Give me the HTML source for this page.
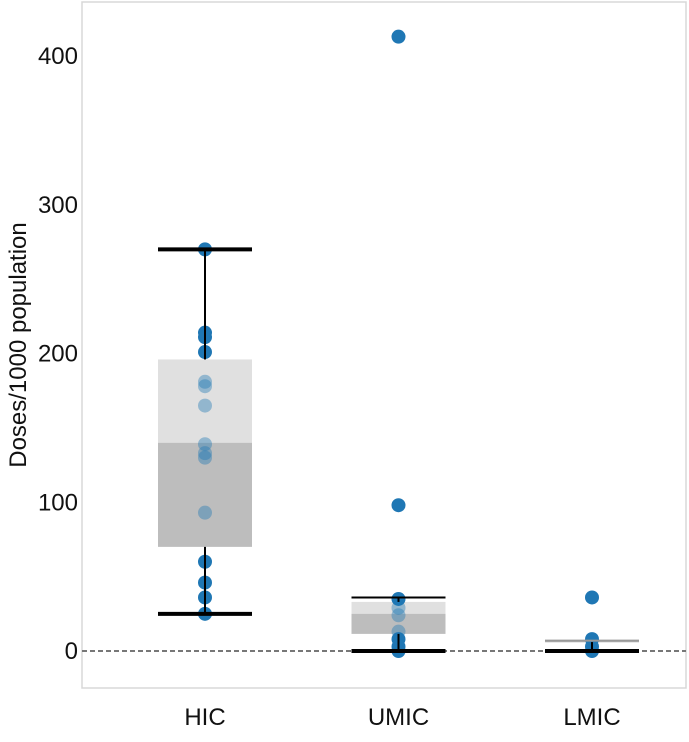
<!DOCTYPE html>
<html><head><meta charset="utf-8"><style>
body{margin:0;background:#fff}
svg text{font-family:"Liberation Sans",Arial,sans-serif;fill:#111}
</style></head><body>
<svg width="689" height="737">
<rect x="82" y="2" width="604" height="686" fill="none" stroke="#d8d8d8" stroke-width="1.5"/>
<g id="axes"></g><g id="marks"></g>
<text transform="translate(26,345) rotate(-90)" text-anchor="middle" font-size="24">Doses/1000 population</text>
</svg>
<script>
const categories=["HIC","UMIC","LMIC"];
const yTicks=[0,100,200,300,400];
const whiskerLow=[25,0,0];
const q1=[70,11.5,6];
const median=[140,25,6.5];
const q3=[196,33,7];
const whiskerHigh=[270,36,7];
const pointsHIC=[270,214,211,201,181,178,165,139,133,130,93,60,46,36,25];
const pointsUMIC=[413,98,35,29,24,13,8,3,0];
const pointsLMIC=[36,8,3,0];
const points=[pointsHIC,pointsUMIC,pointsLMIC];
const NS="http://www.w3.org/2000/svg";
const y=v=>651-v*1.4875;
const x=i=>205+i*193.5;
const mk=(t,a,p)=>{const e=document.createElementNS(NS,t);for(const k in a)e.setAttribute(k,a[k]);p.appendChild(e);return e;};
const ax=document.getElementById('axes'),mg=document.getElementById('marks');
yTicks.forEach(t=>{const e=mk('text',{x:78,y:y(t)+8,'text-anchor':'end','font-size':24},ax);e.textContent=t;

});
categories.forEach((c,i)=>{const e=mk('text',{x:x(i),y:725,'text-anchor':'middle','font-size':24},ax);e.textContent=c;

});
categories.forEach((c,i)=>{
 const cx=x(i),hw=47;
 let r=mk('rect',{x:cx-hw,y:y(q3[i]),width:2*hw,height:Math.max(1,y(median[i])-y(q3[i])),fill:i==2?'#bbbbbb':'#e0e0e0'},mg);
 
 
 r=mk('rect',{x:cx-hw,y:y(median[i]),width:2*hw,height:Math.max(1,y(q1[i])-y(median[i])),fill:'#bdbdbd'},mg);
 
 
});
let z=mk('line',{x1:82,x2:686,y1:y(0),y2:y(0),stroke:'#777','stroke-width':2,'stroke-dasharray':'5,3'},mg);


points.forEach((arr,i)=>arr.forEach(v=>{
 const inBox=v>=q1[i]&&v<=q3[i]&&q3[i]-q1[i]>2;
 const c=mk('circle',{cx:x(i),cy:y(v),r:7,fill:'#1f77b4','fill-opacity':inBox?0.4:1},mg);
 
 
}));
categories.forEach((c,i)=>{
 const cx=x(i),hw=47;
 let l=mk('line',{x1:cx,x2:cx,y1:y(whiskerHigh[i]),y2:y(q3[i]),stroke:'#000','stroke-width':2},mg);
 
 
 l=mk('line',{x1:cx,x2:cx,y1:y(q1[i]),y2:y(whiskerLow[i]),stroke:'#000','stroke-width':2},mg);
 
 
 const top=mk('line',{x1:cx-hw,x2:cx+hw,y1:y(whiskerHigh[i]),y2:y(whiskerHigh[i]),stroke:i==2?'#999':'#000','stroke-width':i==0?4:2},mg);
 
 
 const bot=mk('line',{x1:cx-hw,x2:cx+hw,y1:y(whiskerLow[i]),y2:y(whiskerLow[i]),stroke:'#000','stroke-width':4},mg);
 
 
});
</script>
</body></html>
